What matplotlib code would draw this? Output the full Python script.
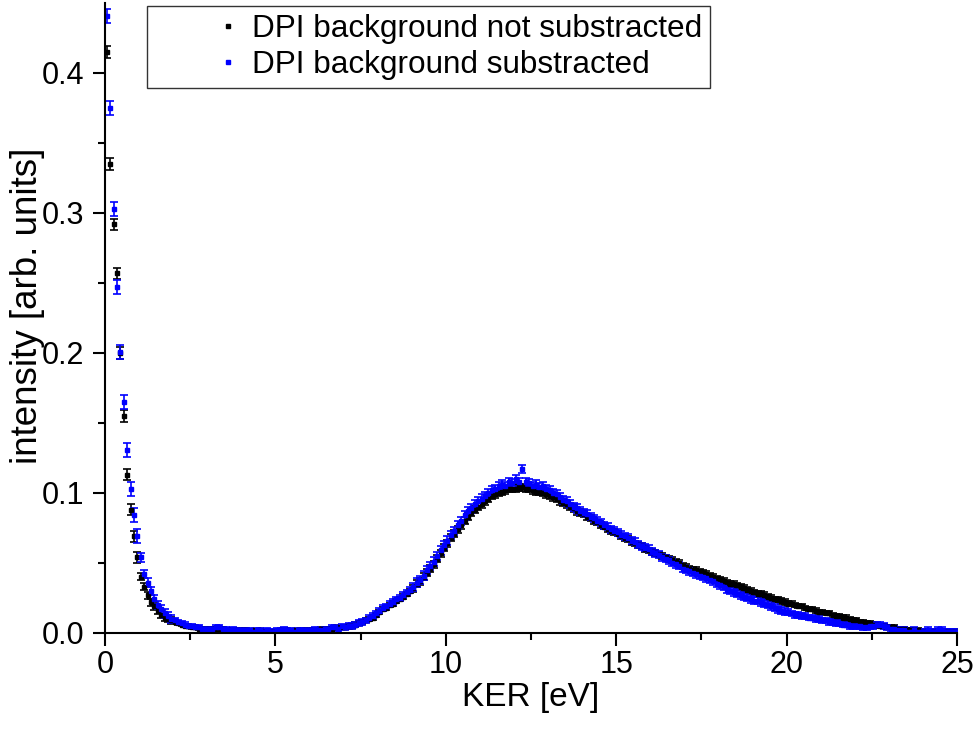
import numpy as np
import matplotlib
matplotlib.use('Agg')
import matplotlib.pyplot as plt
from matplotlib.lines import Line2D

plt.rcParams['font.family'] = ['Liberation Sans', 'DejaVu Sans']

# KER bin centres, 0.1 eV bins from 0 to 25 eV
ker_bins = np.arange(0.05, 25.0, 0.1)

# DPI background not substracted (black), one row per 1 eV
intensity_raw = [
    0.415, 0.335, 0.292, 0.257, 0.200, 0.155, 0.113, 0.088, 0.069, 0.054,
    0.040, 0.033, 0.027, 0.022, 0.019, 0.016, 0.013, 0.011, 0.010, 0.009,
    0.008, 0.007, 0.006, 0.005, 0.005, 0.004, 0.004, 0.003, 0.003, 0.003,
    0.003, 0.003, 0.003, 0.003, 0.003, 0.002, 0.002, 0.002, 0.002, 0.002,
    0.002, 0.002, 0.001, 0.002, 0.001, 0.002, 0.001, 0.001, 0.001, 0.001,
    0.001, 0.002, 0.002, 0.002, 0.001, 0.002, 0.002, 0.001, 0.002, 0.002,
    0.002, 0.002, 0.002, 0.003, 0.003, 0.003, 0.003, 0.004, 0.004, 0.004,
    0.004, 0.005, 0.005, 0.006, 0.007, 0.008, 0.009, 0.010, 0.011, 0.013,
    0.015, 0.017, 0.018, 0.020, 0.021, 0.023, 0.024, 0.026, 0.028, 0.030,
    0.032, 0.035, 0.037, 0.040, 0.043, 0.046, 0.049, 0.053, 0.057, 0.061,
    0.064, 0.068, 0.071, 0.074, 0.077, 0.080, 0.083, 0.086, 0.088, 0.090,
    0.092, 0.094, 0.096, 0.098, 0.099, 0.100, 0.101, 0.102, 0.103, 0.103,
    0.103, 0.104, 0.104, 0.103, 0.103, 0.102, 0.101, 0.101, 0.100, 0.099,
    0.098, 0.097, 0.096, 0.094, 0.093, 0.092, 0.090, 0.089, 0.087, 0.086,
    0.085, 0.083, 0.082, 0.080, 0.079, 0.077, 0.076, 0.074, 0.073, 0.072,
    0.071, 0.069, 0.068, 0.067, 0.065, 0.064, 0.063, 0.062, 0.060, 0.059,
    0.058, 0.057, 0.056, 0.055, 0.054, 0.053, 0.052, 0.051, 0.050, 0.048,
    0.047, 0.046, 0.045, 0.045, 0.044, 0.043, 0.042, 0.041, 0.040, 0.039,
    0.038, 0.037, 0.036, 0.035, 0.035, 0.034, 0.033, 0.032, 0.031, 0.030,
    0.029, 0.028, 0.028, 0.027, 0.026, 0.025, 0.024, 0.024, 0.023, 0.022,
    0.021, 0.021, 0.020, 0.019, 0.019, 0.018, 0.017, 0.017, 0.016, 0.015,
    0.015, 0.014, 0.014, 0.013, 0.012, 0.012, 0.011, 0.011, 0.010, 0.009,
    0.009, 0.008, 0.008, 0.007, 0.007, 0.006, 0.006, 0.005, 0.005, 0.004,
    0.004, 0.004, 0.003, 0.003, 0.003, 0.002, 0.002, 0.002, 0.002, 0.001,
    0.001, 0.001, 0.001, 0.001, 0.001, 0.001, 0.001, 0.001, 0.001, 0.001,
]

# DPI background substracted (blue)
intensity_sub = [
    0.441, 0.375, 0.303, 0.247, 0.201, 0.165, 0.131, 0.103, 0.084, 0.069,
    0.054, 0.042, 0.036, 0.030, 0.024, 0.020, 0.017, 0.014, 0.012, 0.010,
    0.009, 0.008, 0.007, 0.006, 0.005, 0.005, 0.004, 0.004, 0.003, 0.003,
    0.003, 0.003, 0.004, 0.004, 0.003, 0.003, 0.002, 0.003, 0.002, 0.002,
    0.002, 0.002, 0.002, 0.001, 0.002, 0.002, 0.001, 0.002, 0.001, 0.001,
    0.002, 0.002, 0.003, 0.002, 0.002, 0.001, 0.002, 0.002, 0.002, 0.002,
    0.002, 0.003, 0.002, 0.002, 0.003, 0.003, 0.004, 0.004, 0.003, 0.005,
    0.004, 0.005, 0.005, 0.006, 0.007, 0.008, 0.009, 0.011, 0.012, 0.014,
    0.016, 0.018, 0.019, 0.021, 0.022, 0.024, 0.025, 0.027, 0.029, 0.031,
    0.033, 0.036, 0.038, 0.041, 0.045, 0.048, 0.051, 0.055, 0.059, 0.063,
    0.066, 0.070, 0.073, 0.077, 0.080, 0.084, 0.087, 0.089, 0.092, 0.094,
    0.096, 0.098, 0.100, 0.102, 0.103, 0.105, 0.106, 0.105, 0.108, 0.107,
    0.110, 0.108, 0.117, 0.108, 0.107, 0.105, 0.106, 0.104, 0.105, 0.103,
    0.102, 0.100, 0.099, 0.097, 0.095, 0.094, 0.092, 0.090, 0.089, 0.087,
    0.086, 0.085, 0.083, 0.082, 0.080, 0.079, 0.077, 0.076, 0.074, 0.073,
    0.072, 0.070, 0.069, 0.068, 0.066, 0.065, 0.063, 0.062, 0.061, 0.060,
    0.058, 0.057, 0.056, 0.054, 0.053, 0.052, 0.050, 0.049, 0.048, 0.046,
    0.045, 0.044, 0.043, 0.042, 0.041, 0.040, 0.039, 0.038, 0.037, 0.035,
    0.034, 0.033, 0.031, 0.030, 0.029, 0.028, 0.027, 0.026, 0.025, 0.024,
    0.023, 0.023, 0.022, 0.021, 0.020, 0.019, 0.018, 0.017, 0.016, 0.015,
    0.015, 0.014, 0.013, 0.013, 0.012, 0.012, 0.011, 0.011, 0.010, 0.010,
    0.009, 0.009, 0.008, 0.008, 0.007, 0.007, 0.006, 0.006, 0.005, 0.005,
    0.005, 0.005, 0.004, 0.004, 0.005, 0.005, 0.006, 0.006, 0.005, 0.004,
    0.003, 0.003, 0.002, 0.002, 0.002, 0.001, 0.001, 0.002, 0.001, 0.001,
    0.001, 0.002, 0.001, 0.001, 0.002, 0.002, 0.001, 0.001, 0.001, 0.001,
]

# error bar half-height read per 1 eV segment
err_raw_per_ev = [0.004, 0.0025, 0.001, 0.001, 0.001, 0.001, 0.001, 0.0015, 0.0015,
                  0.0025, 0.0025, 0.0025, 0.0025, 0.0025, 0.002, 0.002, 0.002, 0.002,
                  0.002, 0.002, 0.0015, 0.0015, 0.0015, 0.0015, 0.0015]
err_sub_per_ev = [0.005, 0.003, 0.0015, 0.0015, 0.0015, 0.0015, 0.0015, 0.002, 0.002,
                  0.003, 0.003, 0.003, 0.003, 0.003, 0.0025, 0.0025, 0.0025, 0.0025,
                  0.0025, 0.0025, 0.002, 0.002, 0.002, 0.002, 0.002]

err_raw = np.repeat(err_raw_per_ev, 10)
err_sub = np.repeat(err_sub_per_ev, 10)

fig = plt.figure(figsize=(9.74, 7.36), dpi=100)
ax = fig.add_axes([0.1078, 0.140, 0.8747, 0.856])

ax.errorbar(ker_bins, intensity_raw, yerr=err_raw, fmt='s', color='black',
            markersize=3, elinewidth=1.2, capsize=3, capthick=1.2)
ax.errorbar(ker_bins, intensity_sub, yerr=err_sub, fmt='s', color='#0000ff',
            markersize=3, elinewidth=1.2, capsize=3, capthick=1.2)

ax.set_xlim(0, 25)
ax.set_ylim(0, 0.45)
ax.set_xticks([0, 5, 10, 15, 20, 25])
ax.set_xticks(np.arange(2.5, 25, 5), minor=True)
ax.set_yticks([0.0, 0.1, 0.2, 0.3, 0.4])
ax.set_yticks([0.05, 0.15, 0.25, 0.35], minor=True)
ax.yaxis.set_major_formatter(matplotlib.ticker.FormatStrFormatter('%.1f'))

for side in ['top', 'right']:
    ax.spines[side].set_visible(False)
for side in ['left', 'bottom']:
    ax.spines[side].set_linewidth(1.5)
ax.tick_params(which='major', direction='out', length=9, width=1.5, labelsize=22)
ax.tick_params(which='minor', direction='out', length=5, width=1.5)
ax.tick_params(axis='x', which='major', pad=3)
ax.tick_params(axis='y', which='major', pad=6)

ax.set_xlabel('KER [eV]', fontsize=24)
ax.xaxis.set_label_coords(0.5, -0.078)
ax.set_ylabel('intensity [arb. units]', fontsize=26.5)
ax.yaxis.set_label_coords(-0.071, 0.52)

handles = [Line2D([], [], linestyle='none', marker='s', markersize=3, color='black'),
           Line2D([], [], linestyle='none', marker='s', markersize=3, color='#0000ff')]
leg = ax.legend(handles, ['DPI background not substracted', 'DPI background substracted'],
                loc='upper left', bbox_to_anchor=(0.049, 0.995), borderaxespad=0,
                fontsize=22.7, frameon=True, fancybox=False, labelspacing=0.2,
                borderpad=0.25, handlelength=4.65, handletextpad=-1.55)
leg.get_frame().set_edgecolor('black')
leg.get_frame().set_linewidth(1.0)

plt.savefig('out.png', dpi=100)
